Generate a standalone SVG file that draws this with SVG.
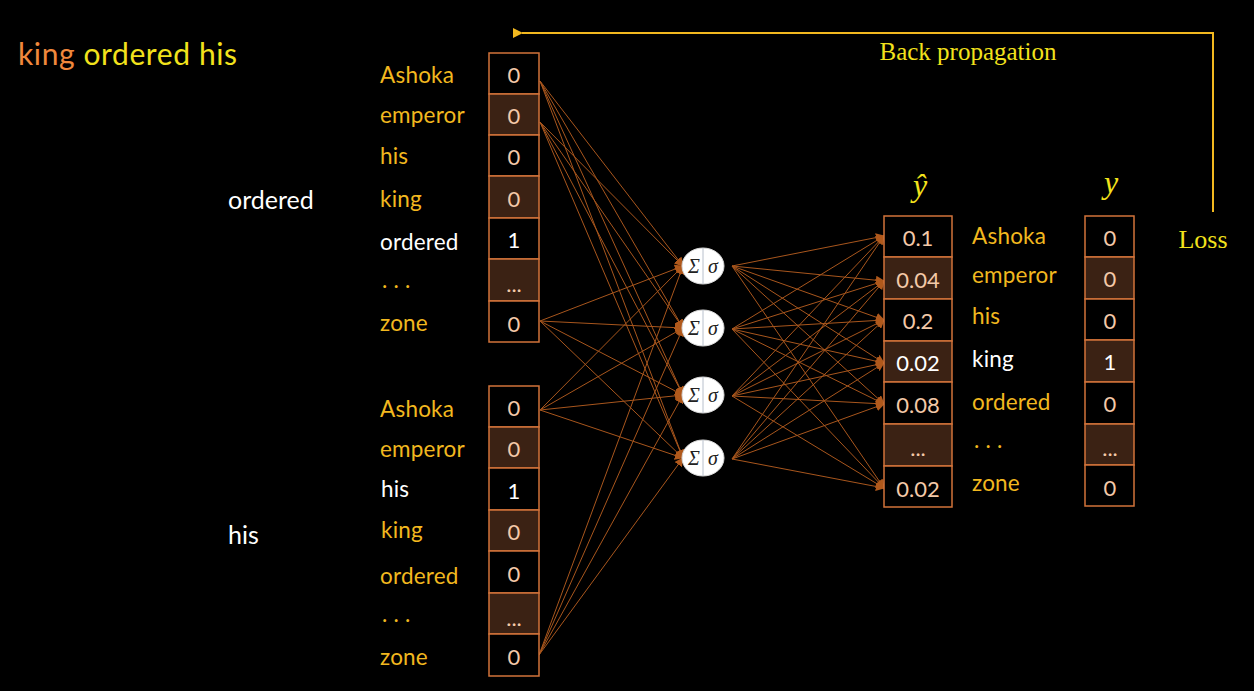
<svg xmlns="http://www.w3.org/2000/svg" width="1254" height="691" viewBox="0 0 1254 691">
<style>
.sans{font-family:Lato,"Open Sans","Liberation Sans",sans-serif}
.lbl{font-family:Lato,"Open Sans","Liberation Sans",sans-serif;font-size:22.5px;fill:#f2b81f;letter-spacing:0.2px}
.wl{fill:#ffffff}
.cell-d{fill:#000000;stroke:#d2733a;stroke-width:1.5}
.cell-b{fill:#3b2214;stroke:#d2733a;stroke-width:1.5}
.val{font-family:Lato,"Open Sans","Liberation Sans",sans-serif;font-size:22px;fill:#f3c9a8;text-anchor:middle;dominant-baseline:central}
.val1{fill:#ffffff}
.ser{font-family:"Liberation Serif","DejaVu Serif",serif;fill:#f2e21c}
.conn line{stroke:#a8561d;stroke-width:1;marker-end:url(#ah)}
.neuron ellipse{fill:#ffffff;stroke:#d8d8d8;stroke-width:1}
.neuron text{font-family:"Liberation Serif","DejaVu Serif",serif;font-style:italic;font-size:20px;fill:#222;text-anchor:middle;dominant-baseline:central}
</style>
<defs>
<marker id="ah" viewBox="0 0 10 10" refX="9" refY="5" markerWidth="9" markerHeight="9" markerUnits="userSpaceOnUse" orient="auto">
<path d="M0,0 L10,5 L0,10 z" fill="#b0591c"/>
</marker>
<marker id="bp" viewBox="0 0 10 10" refX="1" refY="5" markerWidth="10" markerHeight="10" markerUnits="userSpaceOnUse" orient="auto-start-reverse">
<path d="M0,5 L10,0 L10,10 z" fill="#f2b81f"/>
</marker>
</defs>
<rect x="0" y="0" width="1254" height="691" fill="#000000"/>

<g id="title">
<text x="18" y="65" class="sans" font-size="30" letter-spacing="0.6" fill="#f0883c">king <tspan fill="#f2e21c">ordered his</tspan></text>
</g>
<g id="ctx-labels">
<text x="228" y="209" class="sans" font-size="25" fill="#ffffff">ordered</text>
<text x="228" y="544" class="sans" font-size="25" fill="#ffffff">his</text>
</g>

<g id="connectors" class="conn">
<line x1="540" y1="81" x2="683" y2="266"/>
<line x1="540" y1="81" x2="683" y2="328"/>
<line x1="540" y1="81" x2="683" y2="395"/>
<line x1="540" y1="81" x2="683" y2="458"/>
<line x1="540" y1="122" x2="683" y2="266"/>
<line x1="540" y1="122" x2="683" y2="328"/>
<line x1="540" y1="122" x2="683" y2="395"/>
<line x1="540" y1="122" x2="683" y2="458"/>
<line x1="540" y1="321" x2="683" y2="266"/>
<line x1="540" y1="321" x2="683" y2="328"/>
<line x1="540" y1="321" x2="683" y2="395"/>
<line x1="540" y1="321" x2="683" y2="458"/>
<line x1="540" y1="410" x2="683" y2="266"/>
<line x1="540" y1="410" x2="683" y2="328"/>
<line x1="540" y1="410" x2="683" y2="395"/>
<line x1="540" y1="410" x2="683" y2="458"/>
<line x1="539" y1="655" x2="683" y2="266"/>
<line x1="539" y1="655" x2="683" y2="328"/>
<line x1="539" y1="655" x2="683" y2="395"/>
<line x1="539" y1="655" x2="683" y2="458"/>
<line x1="732" y1="266" x2="884" y2="236"/>
<line x1="732" y1="266" x2="884" y2="281"/>
<line x1="732" y1="266" x2="884" y2="320"/>
<line x1="732" y1="266" x2="884" y2="363"/>
<line x1="732" y1="266" x2="884" y2="404"/>
<line x1="732" y1="266" x2="884" y2="488"/>
<line x1="732" y1="329" x2="884" y2="236"/>
<line x1="732" y1="329" x2="884" y2="281"/>
<line x1="732" y1="329" x2="884" y2="320"/>
<line x1="732" y1="329" x2="884" y2="363"/>
<line x1="732" y1="329" x2="884" y2="404"/>
<line x1="732" y1="329" x2="884" y2="488"/>
<line x1="732" y1="396" x2="884" y2="236"/>
<line x1="732" y1="396" x2="884" y2="281"/>
<line x1="732" y1="396" x2="884" y2="320"/>
<line x1="732" y1="396" x2="884" y2="363"/>
<line x1="732" y1="396" x2="884" y2="404"/>
<line x1="732" y1="396" x2="884" y2="488"/>
<line x1="732" y1="459" x2="884" y2="236"/>
<line x1="732" y1="459" x2="884" y2="281"/>
<line x1="732" y1="459" x2="884" y2="320"/>
<line x1="732" y1="459" x2="884" y2="363"/>
<line x1="732" y1="459" x2="884" y2="404"/>
<line x1="732" y1="459" x2="884" y2="488"/>
</g>

<g id="input-ordered">
<rect x="489" y="53" width="50" height="41" class="cell-d"/>
<rect x="489" y="94" width="50" height="41" class="cell-b"/>
<rect x="489" y="135" width="50" height="41" class="cell-d"/>
<rect x="489" y="176" width="50" height="42" class="cell-b"/>
<rect x="489" y="218" width="50" height="41" class="cell-d"/>
<rect x="489" y="259" width="50" height="42" class="cell-b"/>
<rect x="489" y="301" width="50" height="41" class="cell-d"/>
<text x="514" y="74" class="val">0</text>
<text x="514" y="115" class="val">0</text>
<text x="514" y="156" class="val">0</text>
<text x="514" y="198" class="val">0</text>
<text x="514" y="239" class="val val1">1</text>
<text x="514" y="283" class="val" font-size="17">...</text>
<text x="514" y="323" class="val">0</text>
<text x="380" y="83" class="lbl">Ashoka</text>
<text x="380" y="123" class="lbl">emperor</text>
<text x="380" y="164" class="lbl">his</text>
<text x="380" y="207" class="lbl">king</text>
<text x="380" y="250" class="lbl wl">ordered</text>
<text x="382" y="288" class="lbl" font-size="16">. . .</text>
<text x="380" y="331" class="lbl">zone</text>
</g>

<g id="input-his">
<rect x="489" y="386" width="50" height="41" class="cell-d"/>
<rect x="489" y="427" width="50" height="41" class="cell-b"/>
<rect x="489" y="468" width="50" height="42" class="cell-d"/>
<rect x="489" y="510" width="50" height="41" class="cell-b"/>
<rect x="489" y="551" width="50" height="42" class="cell-d"/>
<rect x="489" y="593" width="50" height="41" class="cell-b"/>
<rect x="489" y="634" width="50" height="42" class="cell-d"/>
<text x="514" y="407" class="val">0</text>
<text x="514" y="448" class="val">0</text>
<text x="514" y="490" class="val val1">1</text>
<text x="514" y="531" class="val">0</text>
<text x="514" y="573" class="val">0</text>
<text x="514" y="617" class="val" font-size="17">...</text>
<text x="514" y="656" class="val">0</text>
<text x="380" y="417" class="lbl">Ashoka</text>
<text x="380" y="457" class="lbl">emperor</text>
<text x="381" y="497" class="lbl wl">his</text>
<text x="381" y="538" class="lbl">king</text>
<text x="380" y="584" class="lbl">ordered</text>
<text x="382" y="622" class="lbl" font-size="16">. . .</text>
<text x="380" y="665" class="lbl">zone</text>
</g>

<g id="neuron-1" class="neuron">
<ellipse cx="703" cy="266" rx="21" ry="18"/>
<line x1="703" y1="248" x2="703" y2="284" stroke="#b8c0cc" stroke-width="1"/>
<text x="694" y="266">Σ</text><text x="713" y="266">σ</text>
</g>
<g id="neuron-2" class="neuron">
<ellipse cx="703" cy="328" rx="21" ry="18"/>
<line x1="703" y1="310" x2="703" y2="346" stroke="#b8c0cc" stroke-width="1"/>
<text x="694" y="328">Σ</text><text x="713" y="328">σ</text>
</g>
<g id="neuron-3" class="neuron">
<ellipse cx="703" cy="395" rx="21" ry="18"/>
<line x1="703" y1="377" x2="703" y2="413" stroke="#b8c0cc" stroke-width="1"/>
<text x="694" y="395">Σ</text><text x="713" y="395">σ</text>
</g>
<g id="neuron-4" class="neuron">
<ellipse cx="703" cy="458" rx="21" ry="18"/>
<line x1="703" y1="440" x2="703" y2="476" stroke="#b8c0cc" stroke-width="1"/>
<text x="694" y="458">Σ</text><text x="713" y="458">σ</text>
</g>

<g id="output-yhat">
<text x="920" y="196" class="ser" font-size="32" font-style="italic" text-anchor="middle">ŷ</text>
<rect x="884" y="216" width="68" height="41" class="cell-d"/>
<rect x="884" y="257" width="68" height="42" class="cell-b"/>
<rect x="884" y="299" width="68" height="42" class="cell-d"/>
<rect x="884" y="341" width="68" height="41" class="cell-b"/>
<rect x="884" y="382" width="68" height="42" class="cell-d"/>
<rect x="884" y="424" width="68" height="42" class="cell-b"/>
<rect x="884" y="466" width="68" height="41" class="cell-d"/>
<text x="918" y="237" class="val" font-size="23">0.1</text>
<text x="918" y="279" class="val" font-size="23">0.04</text>
<text x="918" y="320" class="val" font-size="23">0.2</text>
<text x="918" y="362" class="val val1" font-size="23">0.02</text>
<text x="918" y="404" class="val" font-size="23">0.08</text>
<text x="918" y="447" class="val" font-size="17">...</text>
<text x="918" y="488" class="val" font-size="23">0.02</text>
<text x="972" y="244" class="lbl">Ashoka</text>
<text x="972" y="283" class="lbl">emperor</text>
<text x="972" y="324" class="lbl">his</text>
<text x="972" y="367" class="lbl wl">king</text>
<text x="972" y="410" class="lbl">ordered</text>
<text x="974" y="448" class="lbl" font-size="16">. . .</text>
<text x="972" y="491" class="lbl">zone</text>
</g>

<g id="target-y">
<text x="1111" y="193" class="ser" font-size="32" font-style="italic" text-anchor="middle">y</text>
<rect x="1085" y="216" width="49" height="41" class="cell-d"/>
<rect x="1085" y="257" width="49" height="42" class="cell-b"/>
<rect x="1085" y="299" width="49" height="41" class="cell-d"/>
<rect x="1085" y="340" width="49" height="42" class="cell-b"/>
<rect x="1085" y="382" width="49" height="42" class="cell-d"/>
<rect x="1085" y="424" width="49" height="41" class="cell-b"/>
<rect x="1085" y="465" width="49" height="41" class="cell-d"/>
<text x="1110" y="237" class="val">0</text>
<text x="1110" y="278" class="val">0</text>
<text x="1110" y="320" class="val">0</text>
<text x="1110" y="361" class="val val1">1</text>
<text x="1110" y="403" class="val">0</text>
<text x="1110" y="447" class="val" font-size="17">...</text>
<text x="1110" y="487" class="val">0</text>
</g>

<g id="loss">
<text x="1203" y="248" class="ser" font-size="26" text-anchor="middle">Loss</text>
</g>

<g id="backprop">
<polyline points="1213,212 1213,33 522,33" fill="none" stroke="#f2b81f" stroke-width="2" marker-end="url(#bp)"/>
<text x="968" y="60" class="ser" font-size="25" text-anchor="middle">Back propagation</text>
</g>
</svg>
